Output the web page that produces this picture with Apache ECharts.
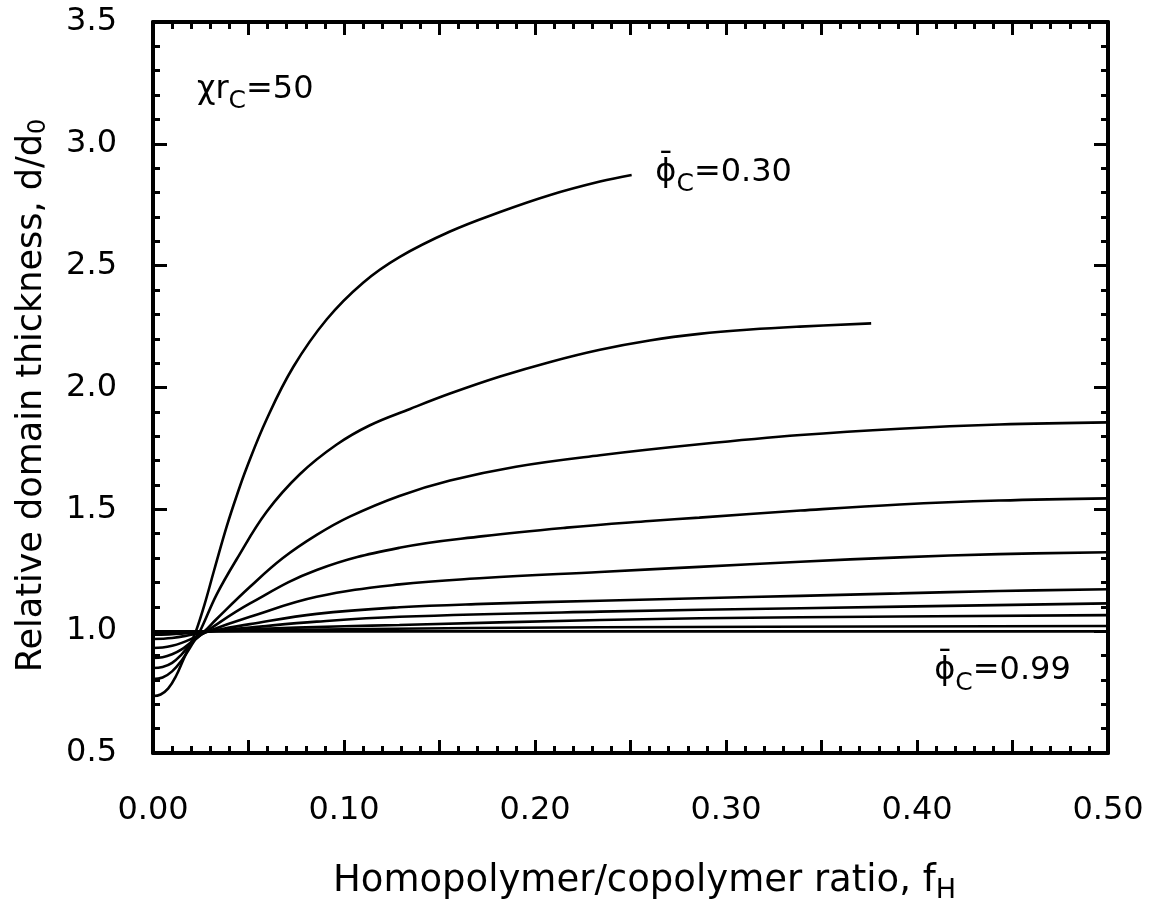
<!DOCTYPE html>
<html>
<head>
<meta charset="utf-8">
<script src="https://cdn.jsdelivr.net/npm/echarts@6/dist/echarts.min.js"></script>
<style>html,body{margin:0;padding:0;background:#fff}#c{width:1159px;height:906px}</style>
</head>
<body>
<div id="c"></div>
<script>
// ---- data (f_H, d/d0) ----
const phiLabels = ['0.30','0.40','0.50','0.60','0.70','0.80','0.85','0.90','0.95','0.99'];
const curve030 = [[0,0.734],[0.004,0.740],[0.008,0.765],[0.012,0.815],[0.016,0.885],[0.020,0.955],[0.0225,1.0],[0.027,1.11],[0.032,1.25],[0.0386,1.43],[0.044,1.56],[0.049,1.67],[0.0595,1.87],[0.0735,2.085],[0.091,2.28],[0.110,2.43],[0.129,2.535],[0.1555,2.64],[0.1817,2.72],[0.208,2.79],[0.234,2.845],[0.2506,2.872]];
const curve040 = [[0,0.804],[0.005,0.81],[0.01,0.835],[0.015,0.88],[0.02,0.94],[0.0246,1.0],[0.0333,1.15],[0.0438,1.295],[0.0595,1.49],[0.077,1.645],[0.096,1.765],[0.1136,1.845],[0.1346,1.912],[0.1555,1.975],[0.1817,2.045],[0.208,2.105],[0.234,2.155],[0.260,2.193],[0.286,2.22],[0.3126,2.238],[0.3387,2.25],[0.376,2.263]];
const curve050 = [[0,0.849],[0.005,0.853],[0.01,0.87],[0.015,0.905],[0.02,0.95],[0.027,1.0],[0.0333,1.05],[0.0508,1.182],[0.068,1.3],[0.0857,1.395],[0.103,1.47],[0.129,1.555],[0.1555,1.618],[0.19,1.675],[0.234,1.722],[0.286,1.767],[0.339,1.805],[0.391,1.831],[0.443,1.848],[0.5,1.857]];
const curve060 = [[0,0.890],[0.005,0.893],[0.01,0.905],[0.015,0.925],[0.02,0.955],[0.028,1.0],[0.0508,1.114],[0.0857,1.251],[0.129,1.342],[0.173,1.39],[0.2166,1.425],[0.260,1.452],[0.286,1.466],[0.339,1.495],[0.391,1.52],[0.443,1.536],[0.5,1.545]];
const curve070 = [[0,0.931],[0.005,0.933],[0.01,0.94],[0.015,0.952],[0.02,0.968],[0.029,1.0],[0.0508,1.059],[0.0857,1.141],[0.129,1.192],[0.173,1.218],[0.234,1.243],[0.286,1.264],[0.339,1.285],[0.391,1.303],[0.443,1.316],[0.5,1.324]];
const curve080 = [[0,0.968],[0.01,0.972],[0.02,0.985],[0.03,1.0],[0.0508,1.029],[0.0857,1.071],[0.129,1.098],[0.173,1.112],[0.234,1.125],[0.286,1.135],[0.339,1.145],[0.391,1.155],[0.443,1.165],[0.5,1.172]];
const curve085 = [[0,0.985],[0.015,0.99],[0.03,1.0],[0.0508,1.015],[0.0857,1.039],[0.129,1.059],[0.234,1.08],[0.339,1.094],[0.5,1.114]];
const curve090 = [[0,0.993],[0.03,1.0],[0.05,1.008],[0.1,1.02],[0.129,1.025],[0.234,1.046],[0.339,1.057],[0.5,1.066]];
const curve095 = [[0,0.997],[0.03,1.0],[0.1,1.008],[0.234,1.016],[0.5,1.021]];
const curve099 = [[0,0.999],[0.5,0.999]];
const curves = [curve030,curve040,curve050,curve060,curve070,curve080,curve085,curve090,curve095,curve099];

const xTicks = {min:0, max:0.5, interval:0.05, labelStep:0.1};
const yTicks = {min:0.5, max:3.5, interval:0.5};

// annotation anchors (data coordinates)
const noteChi = {pos:[0.023, 3.205], parts:['χr','C','=50']};
const noteTop = {pos:[0.263, 2.865], parts:['\u03D5\u0304','C','=0.30']};
const noteBot = {pos:[0.409, 0.82], parts:['\u03D5\u0304','C','=0.99']};

const FONT = 'DejaVu Sans';
const chart = echarts.init(document.getElementById('c'), null, {renderer:'canvas'});

const fmtX = v => {
  const k = Math.round(v*100);
  return (k % 10 === 0) ? (k/100).toFixed(2) : '';
};
const fmtY = v => (Math.round(v*10)/10).toFixed(1);

function xAx(pos, show) {
  return {
    type:'value', position:pos, min:xTicks.min, max:xTicks.max, interval:xTicks.interval,
    axisLine:{show:true, onZero:false, lineStyle:{color:'#000', width:4}},
    axisTick:{show:true, inside:true, length:13, lineStyle:{color:'#000', width:3}},
    minorTick:{show:true, splitNumber:5, length:7, lineStyle:{color:'#000', width:3}},
    splitLine:{show:false},
    axisLabel:{show:show, formatter:fmtX, margin:42, color:'#000', fontFamily:FONT, fontSize:32},
    name: show ? 'Homopolymer/copolymer ratio, f{s|H}' : '',
    nameLocation:'middle', nameGap:106,
    nameTextStyle:{color:'#000', fontFamily:FONT, fontSize:37, padding:[0,0,0,28],
      rich:{s:{fontFamily:FONT, fontSize:27, color:'#000', padding:[18,0,0,0]}}}
  };
}
function yAx(pos, show) {
  return {
    type:'value', position:pos, min:yTicks.min, max:yTicks.max, interval:yTicks.interval,
    axisLine:{show:true, onZero:false, lineStyle:{color:'#000', width:4}},
    axisTick:{show:true, inside:true, length:14, lineStyle:{color:'#000', width:3}},
    minorTick:{show:true, splitNumber:5, length:7, lineStyle:{color:'#000', width:3}},
    splitLine:{show:false},
    axisLabel:{show:show, formatter:fmtY, margin:36, color:'#000', fontFamily:FONT, fontSize:32},
    name: show ? 'Relative domain thickness, d/d{s|0}' : '',
    nameLocation:'middle', nameGap:102, nameRotate:90,
    nameTextStyle:{color:'#000', fontFamily:FONT, fontSize:35, padding:[0,16,0,0],
      rich:{s:{fontFamily:FONT, fontSize:24, color:'#000', padding:[14,0,0,0]}}}
  };
}

const series = curves.map((c,i)=>({
  type:'line', name:'φC='+phiLabels[i], xAxisIndex:0, yAxisIndex:0,
  data:c, showSymbol:false, smooth:0.4,
  lineStyle:{color:'#000', width:2.6}, silent:true, animation:false, z:3
}));

chart.setOption({
  animation:false,
  backgroundColor:'#fff',
  grid:{left:153, right:51, top:22, bottom:153, containLabel:false, outerBoundsMode:'none'},
  xAxis:[xAx('bottom', true), xAx('top', false)],
  yAxis:[yAx('left', true), yAx('right', false)],
  series: series
});

function richNote(note) {
  const p = chart.convertToPixel({xAxisIndex:0, yAxisIndex:0}, note.pos);
  return {
    type:'text', x:p[0], y:p[1], z:10,
    style:{
      text:'{n|'+note.parts[0]+'}{s|'+note.parts[1]+'}{n|'+note.parts[2]+'}',
      align:'left', verticalAlign:'middle', fill:'#000',
      rich:{
        n:{fontFamily:FONT, fontSize:32, fill:'#000', verticalAlign:'bottom', padding:[0,0,9,0]},
        s:{fontFamily:FONT, fontSize:25, fill:'#000', verticalAlign:'bottom'}
      }
    }
  };
}
chart.setOption({graphic:[richNote(noteChi), richNote(noteTop), richNote(noteBot)]});
</script>
</body>
</html>
